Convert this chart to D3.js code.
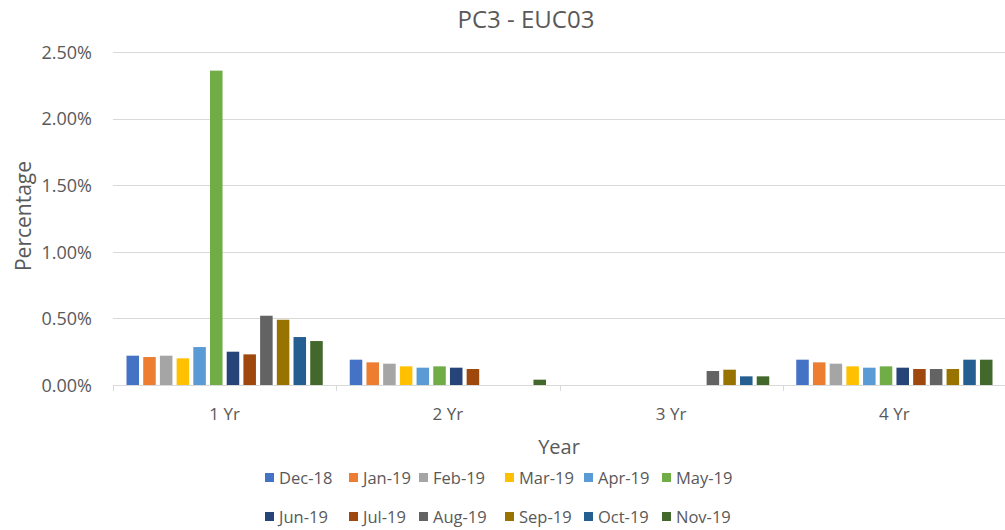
<!DOCTYPE html>
<html><head><meta charset="utf-8">
<script src="https://cdn.jsdelivr.net/npm/d3@7"></script>
<style>
body{margin:0;background:#fff;}
text{font-family:"Open Sans","Liberation Sans",sans-serif;fill:#595959;}
</style></head>
<body><svg id="c" width="1005" height="530"></svg>
<script>
const categories = ["1 Yr","2 Yr","3 Yr","4 Yr"];
const seriesNames = ["Dec-18","Jan-19","Feb-19","Mar-19","Apr-19","May-19","Jun-19","Jul-19","Aug-19","Sep-19","Oct-19","Nov-19"];
const seriesColors = ["#4472C4","#ED7D31","#A5A5A5","#FFC000","#5B9BD5","#70AD47","#264478","#9E480E","#636363","#997300","#255E91","#43682B"];
// values in percent, per series: [1 Yr, 2 Yr, 3 Yr, 4 Yr]
const dec18 = [0.22, 0.19, 0, 0.19];
const jan19 = [0.21, 0.17, 0, 0.17];
const feb19 = [0.22, 0.16, 0, 0.16];
const mar19 = [0.20, 0.14, 0, 0.14];
const apr19 = [0.285, 0.13, 0, 0.13];
const may19 = [2.36, 0.14, 0, 0.14];
const jun19 = [0.25, 0.13, 0, 0.13];
const jul19 = [0.23, 0.12, 0, 0.12];
const aug19 = [0.52, 0, 0.105, 0.12];
const sep19 = [0.49, 0, 0.115, 0.12];
const oct19 = [0.36, 0, 0.065, 0.19];
const nov19 = [0.33, 0.04, 0.065, 0.19];
const yTicks = [0, 0.5, 1.0, 1.5, 2.0, 2.5];
const title = "PC3 - EUC03";

const values = [dec18,jan19,feb19,mar19,apr19,may19,jun19,jul19,aug19,sep19,oct19,nov19];
const svg = d3.select("#c");
const mLeft = 113, mRight = 1006, mTop = 52, mBottom = 385;

const y = d3.scaleLinear().domain([0, 2.5]).range([mBottom, mTop]);
const x0 = d3.scaleBand().domain(categories).range([mLeft, mRight]).padding(0);
const gpad = 13.5;
const x1 = d3.scaleBand().domain(seriesNames).range([gpad, x0.bandwidth() - gpad]).paddingInner(0.25).paddingOuter(0);

// gridlines
svg.append("g").selectAll("line").data(yTicks.filter(d => d > 0)).join("line")
  .attr("x1", mLeft).attr("x2", mRight).attr("y1", d => Math.round(y(d)) + 0.5).attr("y2", d => Math.round(y(d)) + 0.5)
  .attr("stroke", "#d9d9d9").attr("stroke-width", 1);

// y axis labels
const yAxis = d3.axisLeft(y).tickValues(yTicks).tickFormat(d => d.toFixed(2) + "%").tickSize(0).tickPadding(0);
const ga = svg.append("g").attr("transform", `translate(${mLeft-21},0)`).call(yAxis);
ga.select(".domain").remove();
ga.selectAll("text").style("font-size", "18px").attr("fill", "#595959").attr("dy", "0.35em");

// bars
const groups = svg.append("g").selectAll("g").data(categories).join("g")
  .attr("transform", c => `translate(${x0(c)},0)`);
groups.selectAll("rect").data((c, ci) => seriesNames.map((s, si) => ({s, si, v: values[si][ci]})))
  .join("rect")
  .attr("x", d => x1(d.s)).attr("width", x1.bandwidth())
  .attr("y", d => y(d.v)).attr("height", d => y(0) - y(d.v))
  .attr("fill", d => seriesColors[d.si]);

// x axis
const xAxis = d3.axisBottom(x0).tickSize(0).tickPadding(0);
const gx = svg.append("g").attr("transform", `translate(0,${mBottom})`).call(xAxis);
gx.select(".domain").attr("stroke", "#d9d9d9").attr("d", `M${mLeft},0.5H${mRight}`);
gx.selectAll("text").style("font-size", "17px").attr("fill", "#595959").attr("y", 29).attr("dy", "0.35em");
svg.append("g").selectAll("line").data(d3.range(categories.length + 1)).join("line")
  .attr("x1", i => Math.round(mLeft + i * x0.step()) + 0.5).attr("x2", i => Math.round(mLeft + i * x0.step()) + 0.5)
  .attr("y1", mBottom).attr("y2", mBottom + 6).attr("stroke", "#d9d9d9");

// title
svg.append("text").attr("x", 526).attr("y", 28).attr("text-anchor", "middle")
  .style("font-size", "24px").text(title);
// axis titles
svg.append("text").attr("transform", "translate(31,216) rotate(-90)").attr("text-anchor", "middle")
  .style("font-size", "21px").text("Percentage");
svg.append("text").attr("x", 559).attr("y", 454).attr("text-anchor", "middle")
  .style("font-size", "20px").text("Year");

// legend
const colX = [265, 349, 419, 505, 584, 662];
const leg = svg.append("g").selectAll("g").data(seriesNames).join("g")
  .attr("transform", (d, i) => `translate(${colX[i % 6]},${i < 6 ? 478 : 517})`);
leg.append("rect").attr("x", 0).attr("y", -5).attr("width", 9).attr("height", 9)
  .attr("fill", (d, i) => seriesColors[i]);
leg.append("text").attr("x", 14).attr("y", 0).attr("dy", "0.35em").style("font-size", "16.5px").text(d => d);
</script></body></html>
